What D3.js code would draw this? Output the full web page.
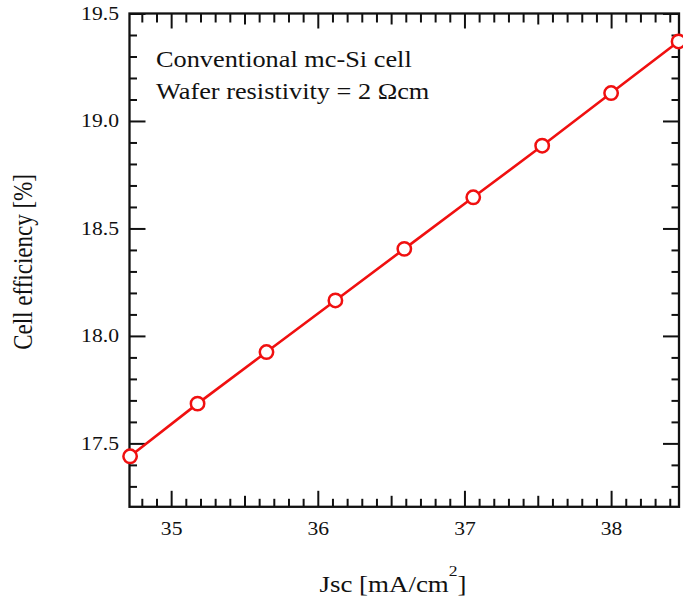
<!DOCTYPE html>
<html>
<head>
<meta charset="utf-8">
<script src="https://cdn.jsdelivr.net/npm/d3@7"></script>
<style>
  body { margin: 0; background: #fff; }
  svg text { font-family: "Liberation Serif", "Times New Roman", serif; fill: #111; }
</style>
</head>
<body>
<div id="chart"></div>
<script>
// data
var jsc = [34.72, 35.18, 35.65, 36.12, 36.59, 37.06, 37.53, 38.0, 38.46];
var efficiency = [17.44, 17.685, 17.925, 18.165, 18.405, 18.645, 18.885, 19.13, 19.37];

// tick labels
var xTickLabels = [35, 36, 37, 38];
var xMidTicks = [35.5, 36.5, 37.5];
var yTickLabels = [17.5, 18.0, 18.5, 19.0, 19.5];

var legendLines = ["Conventional mc-Si cell", "Wafer resistivity = 2 \u03A9cm"];

(function () {
  // ----------------------------------------
  // layout
  var width = 683, height = 596;
  var pLeft = 129.5, pRight = 679, pTop = 13.5, pBottom = 506.8;
  var stretch = 1.17; // the reference text is a bit wide

  var svg = d3.select("#chart").append("svg")
    .attr("width", width)
    .attr("height", height);

  var x = d3.scaleLinear().domain([34.716, 38.463]).range([pLeft, pRight]);
  var y = d3.scaleLinear().domain([17.205, 19.5]).range([pBottom, pTop]);

  // minor ticks every 0.1
  var xMinor = d3.range(34.8, 38.46, 0.1).map(function (d) { return +d.toFixed(1); })
    .filter(function (d) { return xTickLabels.indexOf(d) < 0 && xMidTicks.indexOf(d) < 0; });
  var yMinor = d3.range(17.3, 19.5, 0.1).map(function (d) { return +d.toFixed(1); })
    .filter(function (d) { return yTickLabels.indexOf(d) < 0; });

  function addAxis(axis, tx, ty) {
    var g = svg.append("g")
      .attr("transform", "translate(" + tx + "," + ty + ")")
      .call(axis)
      .attr("font-family", null);
    g.select(".domain").remove();
    g.selectAll("line").attr("stroke", "#111").attr("stroke-width", 2);
    return g;
  }

  var noLabel = function () { return ""; };

  // bottom
  var bx = addAxis(d3.axisBottom(x).tickValues(xTickLabels).tickSizeInner(-16).tickSizeOuter(0)
    .tickPadding(15).tickFormat(d3.format("d")), 0, pBottom);
  bx.selectAll("text").attr("font-size", 18.5).attr("transform", "scale(" + stretch + ",1)");
  addAxis(d3.axisBottom(x).tickValues(xMidTicks).tickSizeInner(-11).tickSizeOuter(0).tickFormat(noLabel), 0, pBottom);
  addAxis(d3.axisBottom(x).tickValues(xMinor).tickSizeInner(-8).tickSizeOuter(0).tickFormat(noLabel), 0, pBottom);

  // top
  addAxis(d3.axisTop(x).tickValues(xTickLabels).tickSizeInner(-15).tickSizeOuter(0).tickFormat(noLabel), 0, pTop);
  addAxis(d3.axisTop(x).tickValues(xMidTicks).tickSizeInner(-11).tickSizeOuter(0).tickFormat(noLabel), 0, pTop);
  addAxis(d3.axisTop(x).tickValues(xMinor).tickSizeInner(-9).tickSizeOuter(0).tickFormat(noLabel), 0, pTop);

  // left
  var ly = addAxis(d3.axisLeft(y).tickValues(yTickLabels).tickSizeInner(-16).tickSizeOuter(0)
    .tickPadding(9).tickFormat(d3.format(".1f")), pLeft, 0);
  ly.selectAll("text").attr("font-size", 18.5).attr("transform", "scale(" + stretch + ",1)");
  addAxis(d3.axisLeft(y).tickValues(yMinor).tickSizeInner(-7.5).tickSizeOuter(0).tickFormat(noLabel), pLeft, 0);

  // right
  addAxis(d3.axisRight(y).tickValues(yTickLabels).tickSizeInner(-16).tickSizeOuter(0).tickFormat(noLabel), pRight, 0);
  addAxis(d3.axisRight(y).tickValues(yMinor).tickSizeInner(-7.5).tickSizeOuter(0).tickFormat(noLabel), pRight, 0);

  // frame
  svg.append("rect")
    .attr("x", pLeft).attr("y", pTop)
    .attr("width", pRight - pLeft).attr("height", pBottom - pTop)
    .attr("fill", "none").attr("stroke", "#111").attr("stroke-width", 2.3);

  // series
  var points = jsc.map(function (d, i) { return { x: d, y: efficiency[i] }; });

  var line = d3.line()
    .x(function (d) { return x(d.x); })
    .y(function (d) { return y(d.y); });

  svg.append("path")
    .attr("d", line(points))
    .attr("fill", "none")
    .attr("stroke", "#f01010")
    .attr("stroke-width", 2.6);

  svg.selectAll("circle.pt")
    .data(points)
    .enter().append("circle")
    .attr("class", "pt")
    .attr("cx", function (d) { return x(d.x); })
    .attr("cy", function (d) { return y(d.y); })
    .attr("r", 6.7)
    .attr("fill", "#fff")
    .attr("stroke", "#f01010")
    .attr("stroke-width", 2.5);

  // legend text
  svg.selectAll("text.note")
    .data(legendLines)
    .enter().append("text")
    .attr("class", "note")
    .attr("font-size", 22.5)
    .attr("transform", function (d, i) {
      return "translate(156," + (67 + i * 31.5) + ") scale(" + stretch + ",1)";
    })
    .text(function (d) { return d; });

  // axis titles
  var xt = svg.append("text")
    .attr("font-size", 23)
    .attr("text-anchor", "middle")
    .attr("transform", "translate(393,592) scale(" + stretch + ",1)");
  xt.append("tspan").text("Jsc [mA/cm");
  xt.append("tspan").attr("font-size", 15).attr("dy", -16).text("2");
  xt.append("tspan").attr("dy", 16).text("]");

  svg.append("text")
    .attr("font-size", 23)
    .attr("text-anchor", "middle")
    .attr("transform", "translate(32,262) scale(" + stretch + ",1) rotate(-90)")
    .text("Cell efficiency [%]");
})();
</script>
</body>
</html>
